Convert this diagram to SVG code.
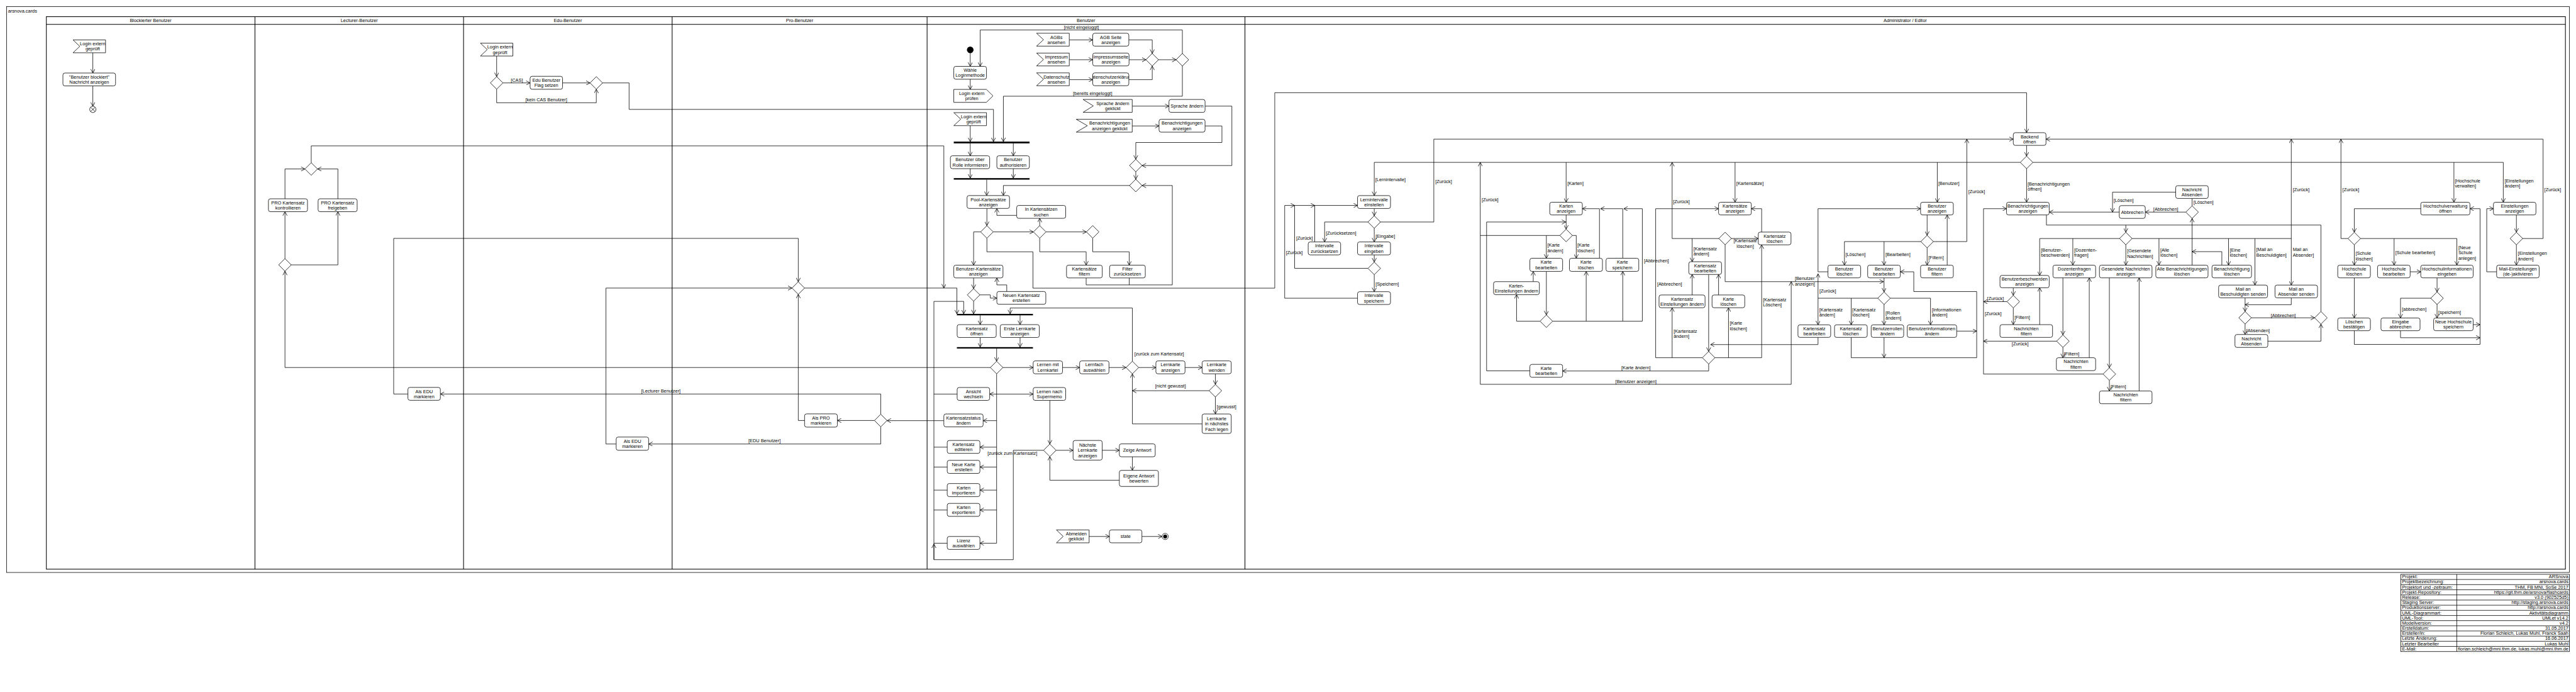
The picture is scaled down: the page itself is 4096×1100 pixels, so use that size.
<svg xmlns="http://www.w3.org/2000/svg" width="4096" height="1100" viewBox="0 0 4096 1100">
<style>
text{font-family:"Liberation Sans",Arial,Helvetica,sans-serif;font-size:14px;fill:#000}
.n text,.m{text-anchor:middle}
.r{text-anchor:end}
.b{fill:#fff;stroke:#000;stroke-width:1.5}
.k{fill:#000}
#connectors path{fill:none;stroke:#000;stroke-width:1.5}
#connectors .a{marker-end:url(#ah)}
.lane line,.lane rect{fill:none;stroke:#000;stroke-width:2}
.tb line,.tb rect{stroke:#000;stroke-width:1.5;fill:none}
</style>
<defs>
<marker id="ah" viewBox="0 0 13 14" refX="12.5" refY="7" markerWidth="13" markerHeight="14" orient="auto" markerUnits="userSpaceOnUse"><path d="M0.5 0.5L12.5 7L0.5 13.5" fill="none" stroke="#000" stroke-width="1.5"/></marker>
<clipPath id="cpd"><rect x="3300.2" y="220.1" width="109.1" height="38.8"/></clipPath>
</defs>
<rect width="4096" height="1100" fill="#fff"/>
<g transform="scale(0.526478,0.526316)">
<g id="frame">
<rect x="20" y="20" width="7740" height="1709" fill="none" stroke="#000" stroke-width="1.5"/>
<text x="24" y="38.5">arsnova.cards</text>
</g>
<g id="lanes" class="lane">
<rect x="140" y="50.4" width="7608" height="1668.6"/>
<line x1="140" y1="73.7" x2="7748" y2="73.7"/>
<line x1="770" y1="50.4" x2="770" y2="1719"/>
<line x1="1400" y1="50.4" x2="1400" y2="1719"/>
<line x1="2030" y1="50.4" x2="2030" y2="1719"/>
<line x1="2800" y1="50.4" x2="2800" y2="1719"/>
<line x1="3760" y1="50.4" x2="3760" y2="1719"/>
<text class="m" x="455" y="67">Blockierter Benutzer</text>
<text class="m" x="1085" y="67">Lecturer-Benutzer</text>
<text class="m" x="1715" y="67">Edu-Benutzer</text>
<text class="m" x="2415" y="67">Pro-Benutzer</text>
<text class="m" x="3280" y="67">Benutzer</text>
<text class="m" x="5754" y="67">Administrator / Editor</text>
</g>
<g id="connectors">
<path class="a" d="M280.4 159.4V220.5"/>
<path class="a" d="M280.4 259.4V320.9"/>
<path class="a" d="M860.7 781V639.3"/>
<path class="a" d="M879.7 800H1020.5V639.3"/>
<path class="a" d="M2991 1110H860.7V819"/>
<path class="a" d="M860.7 600.4V510.3H921"/>
<path class="a" d="M1020.5 600.4V510.3H959"/>
<path class="a" d="M940 491.3V440.6H2850.6V870"/>
<path class="a" d="M1232 1190H1189V720H2411V851"/>
<path class="a" d="M1500 169.2V231.4"/>
<path class="a" d="M1519 250.4H1601"/>
<path class="a" d="M1699 250.4H1782"/>
<path class="a" d="M1500 269.4V310.3H1801V269.4"/>
<path class="a" d="M1820 250.4H1900V330.4H3000.5V427.7"/>
<path class="a" d="M1861 1341H1830V870H2392"/>
<path class="a" d="M2430 870H2890V948"/>
<path class="a" d="M2430 1270H2411V889"/>
<path class="a" d="M2850.6 1270.5H2679"/>
<path class="a" d="M2641 1270H2529"/>
<path class="a" d="M2660 1251V1190H1330"/>
<path class="a" d="M2660 1289V1341H1959"/>
<path class="a" d="M2930.3 160V200.4"/>
<path class="a" d="M2930.3 239.3V270"/>
<path class="a" d="M2930.3 379.5V427.7"/>
<path class="a" d="M3571 161.4V90.6H2960.3V200.4"/>
<path class="a" d="M3571 199.4V290.6H3030.4V427.7"/>
<path class="a" d="M2930.3 433V470.5"/>
<path class="a" d="M3060.4 433V470.5"/>
<path class="a" d="M2930.3 509.4V538"/>
<path class="a" d="M3060.4 509.4V538"/>
<path class="a" d="M2980 542.5V590.6"/>
<path class="a" d="M3411.3 560.3H3030.4V590.6"/>
<path class="a" d="M3070.6 650.4H3010.7V629.5"/>
<path class="a" d="M3229.4 120.5H3300.2"/>
<path class="a" d="M3229.4 180.4H3300.2"/>
<path class="a" d="M3229.4 240.6H3300.2"/>
<path class="a" d="M3409.3 120.5H3480V161.4"/>
<path class="a" d="M3409.9 180.4H3461"/>
<path class="a" d="M3409.3 240.6H3480V199.4"/>
<path class="a" d="M3499 180.4H3552"/>
<path class="a" d="M3419.5 320.5H3530.5"/>
<path class="a" d="M3419.5 380.4H3500.5"/>
<path class="a" d="M3639.5 320.5H3720.5V500H3449.3"/>
<path class="a" d="M3639.5 380.4H3690.5V430.4H3430.3V481"/>
<path class="a" d="M3430.3 519V541.3"/>
<path class="a" d="M3280.4 839.4V860.5H3540.6V560.3H3449.3"/>
<path d="M3410.5 839.4V860.5"/>
<path class="a" d="M2980.6 629.5V681.4"/>
<path class="a" d="M2999.6 700.4H3121.1"/>
<path class="a" d="M3159.1 700.4H3281.2"/>
<path class="a" d="M3140.1 681.4V659.4"/>
<path class="a" d="M2961.6 700.4H2940.5V800.8"/>
<path class="a" d="M2980.6 719.4V760.5H3119.7V870.3H3850V280H6120.7V400.7"/>
<path class="a" d="M3140.1 719.4V760.5H3280.4V800.8"/>
<path class="a" d="M3300.2 719.4V760.5H3410.5V800.8"/>
<path class="a" d="M2940.5 839.4V871.6"/>
<path class="a" d="M2959.5 890.6H2991V900.4H3010.7"/>
<path class="a" d="M3040.6 880.4V860.5H3010.7V839.4"/>
<path class="a" d="M2940.5 909.6V948"/>
<path class="a" d="M2960.3 952.4V980.4"/>
<path class="a" d="M3080.8 952.4V980.4"/>
<path class="a" d="M2960.3 1019.3V1048.4"/>
<path class="a" d="M3080.8 1019.3V1048.4"/>
<path class="a" d="M3010 1052.7V1091"/>
<path class="a" d="M3029 1110H3120.4"/>
<path class="a" d="M3209 1110H3260.7"/>
<path class="a" d="M3349.3 1110H3401"/>
<path class="a" d="M3439 1110H3491"/>
<path class="a" d="M3579 1110H3630.6"/>
<path class="a" d="M3670.7 1129V1161"/>
<path class="a" d="M3420 1091V930.3H3050.8V948"/>
<path class="a" d="M3651.7 1180H3420"/>
<path class="a" d="M3670.7 1199V1250.3"/>
<path class="a" d="M3630.6 1280.3H3420V1129"/>
<path class="a" d="M3010 1129V1640.6H2959.6"/>
<path class="a" d="M3010 1190.2H2989"/>
<path class="a" d="M3010 1190.2H3120.4"/>
<path class="a" d="M3010 1270.5H2969.2"/>
<path class="a" d="M3010 1350.5H2959.6"/>
<path class="a" d="M3010 1410.6H2959.6"/>
<path class="a" d="M3010 1480.3H2959.6"/>
<path class="a" d="M3010 1540.4H2959.6"/>
<path class="a" d="M3151.7 1360H3060.4V1690.4H2820.6V910.3H2910.5V948"/>
<path class="a" d="M2820.6 1690.4V1643"/>
<path d="M2890.8 1190.2H2820.6M2860.8 1350.5H2820.6M2860.8 1410.6H2820.6M2860.8 1480.3H2820.6M2860.8 1540.4H2820.6M2860.8 1640.6H2820.6"/>
<path class="a" d="M3170.7 1209.3V1341"/>
<path class="a" d="M3189.7 1360H3240.9"/>
<path class="a" d="M3328.9 1360H3380.6"/>
<path class="a" d="M3420 1379.6V1420.6"/>
<path class="a" d="M3380.6 1450.4H3170.7V1379"/>
<path class="a" d="M3289.4 1620.3H3350.6"/>
<path class="a" d="M3448.8 1620.3H3509.5"/>
<path class="a" d="M4169.5 670.5H4330.4V420.2H6080.5"/>
<path class="a" d="M5839.3 729.6H5940.2V420.2"/>
<path class="a" d="M7619 720.4H7680.6V420.2H6179.3"/>
<path class="a" d="M7091.4 720.4H7070.1V420.2"/>
<path class="a" d="M6439.4 720.4H6920.1V420.2"/>
<path class="a" d="M6520.5 720.4V800.8"/>
<path class="a" d="M6730.6 720.4V800.8"/>
<path class="a" d="M6810.4 720.4V861"/>
<path class="a" d="M6920.1 720.4V861"/>
<path class="a" d="M6120.7 439.1V471.4"/>
<path class="a" d="M6101.7 490.4H4150.5V590.7"/>
<path class="a" d="M4730 490.4V610.8"/>
<path class="a" d="M5240.2 490.4V610.8"/>
<path class="a" d="M5851 490.4V610.8"/>
<path class="a" d="M6139.7 490.4H7560.4V610.8"/>
<path class="a" d="M7411.3 490.4V610.8"/>
<path class="a" d="M6120.7 509.4V610.8"/>
<path class="a" d="M4711 711.2H4470.7V490.4"/>
<path class="a" d="M4470.7 711.2V1160.7H5409.8V850.7"/>
<path class="a" d="M5191.2 720.4H5050.2V490.4"/>
<path class="a" d="M5110.7 720.4V790.4"/>
<path class="a" d="M5229.2 720.4H5310.3"/>
<path class="a" d="M5210.2 739.4V850.7H5688.5"/>
<path class="a" d="M5320.5 700.9V630.3H5289.3"/>
<path class="a" d="M5179.5 1080.4H5320.5V739.4"/>
<path class="a" d="M5141.5 1080.4H5000.4V630.3H5190.4"/>
<path class="a" d="M5050.2 1080.4V929.4"/>
<path class="a" d="M5220.4 1080.4V929.4"/>
<path class="a" d="M5110.7 890.9V828.9"/>
<path class="a" d="M5190.4 890.9V828.9"/>
<path class="a" d="M5160.5 828.9V1061.4"/>
<path class="a" d="M5160.5 1099.4V1120.5H4719.4"/>
<path class="a" d="M4620.5 1120H4489.8V670.5H4729"/>
<path class="a" d="M4730 649.2V692.2"/>
<path class="a" d="M4749 711.2H4760.6V780"/>
<path class="a" d="M4670.3 711.2V780"/>
<path class="a" d="M4670.3 819.7V951.1"/>
<path class="a" d="M4651.3 970.1H4580.3V889.8"/>
<path class="a" d="M4630.7 850.7V819.7"/>
<path class="a" d="M4689.3 970.1H4960.2V630.3H4904"/>
<path class="a" d="M4790.6 970.1V819.7"/>
<path class="a" d="M4901 970.1V819.7"/>
<path class="a" d="M4830.7 780V630.3H4779"/>
<path class="a" d="M4901 780V630.3H4834"/>
<path class="a" d="M5820.3 649.2V710.6"/>
<path class="a" d="M5820.3 748.6V800.8"/>
<path class="a" d="M5880.9 800.8V649.2"/>
<path class="a" d="M5801.3 729.6H5570.5V800.8"/>
<path class="a" d="M5690.2 729.6V800.8"/>
<path class="a" d="M5520.8 820.9H5490.8V630.3H5800.5"/>
<path class="a" d="M5671.2 900.7H5490.8V827"/>
<path class="a" d="M5490.8 900.7V981"/>
<path class="a" d="M5591 900.7V981"/>
<path class="a" d="M5690.2 839.2V881.7"/>
<path class="a" d="M5690.2 919.7V981"/>
<path class="a" d="M5709.2 900.7H5830.5V981"/>
<path class="a" d="M5490.8 1019V1040.7H5166"/>
<path class="a" d="M5591 1019V1080.4H5970V880.6H5780V820.9H5739.3"/>
<path class="a" d="M5690.2 1019V1080.4"/>
<path class="a" d="M5909.6 1000H5970"/>
<path class="a" d="M6180.6 649.2V679.7H6420.4V701.4"/>
<path d="M7009.7 940.8V679.7H6420.4"/>
<path class="a" d="M6401.4 720.4H6160.2V831.8"/>
<path class="a" d="M6260.3 720.4V800.8"/>
<path class="a" d="M6420.4 739.4V800.8"/>
<path class="a" d="M6620.6 800.8V659.6"/>
<path class="a" d="M6710.4 800.8V760H6620.6"/>
<path class="a" d="M6601.6 640.6H6479.1"/>
<path class="a" d="M6400.6 640.6H6189"/>
<path d="M6620.6 621.6V599.3"/>
<path class="a" d="M6571 580.3H6380.2V640.6"/>
<path class="a" d="M6080.5 869.1V892"/>
<path class="a" d="M6061.5 911H5990.6"/>
<path class="a" d="M6080.5 930V980.5"/>
<path class="a" d="M6160.2 980.5V869.1"/>
<path class="a" d="M6230.4 839.2V1011.4"/>
<path class="a" d="M6211.4 1030.4H5990.6"/>
<path class="a" d="M6230.4 1049.4V1080.4"/>
<path class="a" d="M6310 1080.4V839.2"/>
<path class="a" d="M6370.7 839.2V1110.7"/>
<path class="a" d="M6351.7 1129.7H5990.6V630.3H6060"/>
<path class="a" d="M6370.7 1148.7V1180.8"/>
<path class="a" d="M6460.6 1180.8V839.2"/>
<path class="a" d="M6780.6 899.5V940.8"/>
<path class="a" d="M6920.1 899.5V920.2H6780.6"/>
<path class="a" d="M6799.6 959.8H6990.7"/>
<path class="a" d="M6780.6 978.8V1010.3"/>
<path class="a" d="M6849.3 1030.4H7009.7V978.8"/>
<path class="a" d="M7311.2 630.3H7110.4V701.4"/>
<path class="a" d="M7110.4 739.4V800.8"/>
<path class="a" d="M7129.4 720.4H7420.2V800.8"/>
<path class="a" d="M7230.6 720.4V800.8"/>
<path class="a" d="M7279.1 820.9H7311.2"/>
<path class="a" d="M7110.4 839.2V960.4"/>
<path class="a" d="M7360.4 839.2V881.7"/>
<path class="a" d="M7341.4 900.7H7250V960.4"/>
<path class="a" d="M7360.4 919.7V960.4"/>
<path class="a" d="M7110.4 998.8V1040.2H7490.3V630.3H7459.7"/>
<path class="a" d="M7250 998.8V1020H7490.3"/>
<path class="a" d="M7469.4 980.5H7490.3"/>
<path class="a" d="M7600 649.2V701.4"/>
<path class="a" d="M7600 739.4V800.8"/>
<path class="a" d="M7540.3 820.9H7510.4V630.3H7530.6"/>
<path class="a" d="M4150.5 629.7V651.5"/>
<path class="a" d="M4131.5 670.5H4000.6V730.7"/>
<path class="a" d="M4150.5 689.5V730.7"/>
<path class="a" d="M4150.5 769.8V791.5"/>
<path class="a" d="M4150.5 829.5V881"/>
<path class="a" d="M4131.5 810.5H3910V620.5H3970.7"/>
<path class="a" d="M3970.7 730.7V620.5H4100"/>
<path class="a" d="M4100 900.7H3880V620.5H3910"/>
</g>
<g id="labels">
<text class="m" x="1561" y="247">[CAS]</text>
<text class="m" x="1650" y="306">[kein CAS Benutzer]</text>
<text class="m" x="1996" y="1186">[Lecturer Benutzer]</text>
<text class="m" x="2309" y="1335">[EDU Benutzer]</text>
<text class="m" x="3266" y="86.7">[nicht eingeloggt]</text>
<text class="m" x="3300" y="286.7">[bereits eingeloggt]</text>
<text x="3426" y="1074">[zurück zum Kartensatz]</text>
<text class="m" x="3535" y="1171">[nicht gewusst]</text>
<text x="3675" y="1232.7">[gewusst]</text>
<text x="2982.6" y="1374.3">[zurück zum Kartensatz]</text>
<text x="4153.7" y="548">[Lernintervalle]</text>
<text x="4334.8" y="553.2">[Zurück]</text>
<text x="4475.1" y="607.7">[Zurück]</text>
<text x="4004.5" y="708.2">[Zurücksetzen]</text>
<text x="4154.3" y="718">[Eingabe]</text>
<text x="3914.5" y="723.1">[Zurück]</text>
<text x="3883.9" y="768.5">[Zurück]</text>
<text x="4154.3" y="863.2">[Speichern]</text>
<text x="4733.8" y="557.8">[Karten]</text>
<text x="5244" y="557.8">[Kartensätze]</text>
<text x="5854" y="557.8">[Benutzer]</text>
<text x="4673.5" y="745.5">[Karte<tspan x="4673.5" dy="15.6">ändern]</tspan></text>
<text x="4763.8" y="745.5">[Karte<tspan x="4763.8" dy="15.6">löschen]</tspan></text>
<text x="5053" y="613">[Zurück]</text>
<text x="5114.5" y="755.3">[Kartensatz<tspan x="5114.5" dy="15.6">ändern]</tspan></text>
<text class="m" x="5271" y="732.3">[Kartensatz<tspan x="5271" dy="15.6">löschen]</tspan></text>
<text x="4965" y="792.6">[Abbrechen]</text>
<text x="5004.8" y="863">[Abbrechen]</text>
<text x="5054.6" y="1005">[Kartensatz<tspan x="5054.6" dy="15.6">ändern]</tspan></text>
<text x="5224.2" y="981">[Karte<tspan x="5224.2" dy="15.6">löschen]</tspan></text>
<text x="5324.4" y="910.3">[Kartensatz<tspan x="5324.4" dy="15.6">Löschen]</tspan></text>
<text class="m" x="4941" y="1115.8">[Karte ändern]</text>
<text class="m" x="4941" y="1156.5">[Benutzer anzeigen]</text>
<text x="5420.7" y="846">[Benutzer<tspan x="5420.7" dy="16.6">anzeigen]</tspan></text>
<text x="5495" y="884.4">[Zurück]</text>
<text x="5494.6" y="940.7">[Kartensatz<tspan x="5494.6" dy="15.6">ändern]</tspan></text>
<text x="5594" y="940.7">[Kartensatz<tspan x="5594" dy="15.6">löschen]</tspan></text>
<text x="5573.7" y="773.6">[Löschen]</text>
<text x="5694.6" y="773.6">[Bearbeiten]</text>
<text x="5944.6" y="583">[Zurück]</text>
<text x="5824" y="783.4">[Filtern]</text>
<text x="5694.6" y="950.4">[Rollen<tspan x="5694.6" dy="15.6">ändern]</tspan></text>
<text x="5834.3" y="940.7">[Informationen<tspan x="5834.3" dy="15.6">ändern]</tspan></text>
<text x="6123.8" y="560">[Benachrichtigungen<tspan x="6123.8" dy="15.6">öffnen]</tspan></text>
<text x="6383.4" y="610">[Löschen]</text>
<text x="6503.3" y="635.9">[Abbrechen]</text>
<text x="6624.6" y="616.3">[Löschen]</text>
<text x="6164" y="759.3">[Benutzer-<tspan x="6164" dy="15.6">beschwerden]</tspan></text>
<text x="6264.2" y="760.4">[Dozenten-<tspan x="6264.2" dy="15.6">fragen]</tspan></text>
<text x="6424.2" y="762.7">[Gesendete<tspan x="6424.2" dy="15.6">Nachrichten]</tspan></text>
<text x="6524.3" y="760.4">[Alle<tspan x="6524.3" dy="15.6">löschen]</tspan></text>
<text x="6734.3" y="760.4">[Eine<tspan x="6734.3" dy="15.6">löschen]</tspan></text>
<text x="6814.2" y="758.7">[Mail an<tspan x="6814.2" dy="15.6">Beschuldigten]</tspan></text>
<text x="6924.6" y="758.7">Mail an<tspan x="6924.6" dy="15.6">Absender]</tspan></text>
<text x="6001.4" y="906.2">[Zurück]</text>
<text x="5994.4" y="952">[Zurück]</text>
<text x="6076" y="1042.3">[Zurück]</text>
<text x="6084.3" y="963">[Filtern]</text>
<text x="6233.5" y="1072.7">[Filtern]</text>
<text x="6374.5" y="1173.2">[Filtern]</text>
<text x="6858.2" y="956.7">[Abbrechen]</text>
<text x="6784.3" y="1003.3">[Absenden]</text>
<text x="6924.6" y="578.5">[Zurück]</text>
<text x="7074.6" y="578.5">[Zurück]</text>
<text x="7684.3" y="578.5">[Zurück]</text>
<text x="7414.2" y="550.3">[Hochschule<tspan x="7414.2" dy="16.1">verwalten]</tspan></text>
<text x="7564.2" y="550.3">[Einstellungen<tspan x="7564.2" dy="16.1">ändern]</tspan></text>
<text x="7114.2" y="770.2">[Schule<tspan x="7114.2" dy="16.1">löschen]</tspan></text>
<text x="7234.3" y="768.5">[Schule bearbeiten]</text>
<text x="7424.6" y="752.4">[Neue<tspan x="7424.6" dy="16">Schule</tspan><tspan x="7424.6" dy="16">anlegen]</tspan></text>
<text x="7254.5" y="938.4">[abbrechen]</text>
<text x="7364.2" y="948.7">[speichern]</text>
<text x="7604.5" y="770.2">[Einstellungen<tspan x="7604.5" dy="16.1">ändern]</tspan></text>
</g>
<g id="n_bl_sig" class="n"><path class="b" d="M220.5 120.5H318.8V159.4H220.5L241 140Z"/><text x="279.9" y="137.2">Login extern<tspan x="279.9" dy="15.6">geprüft</tspan></text></g>
<g id="n_bl_msg" class="n"><rect class="b" x="190" y="220.5" width="159" height="39" rx="6"/><text x="269.5" y="237.2">"Benutzer blockiert"<tspan x="269.5" dy="15.6">Nachricht anzeigen</tspan></text></g>
<g id="n_bl_final"><circle class="b" cx="280.4" cy="330.4" r="9.5"/><path d="M273.7 323.7L287.1 337.1M287.1 323.7L273.7 337.1" stroke="#000" stroke-width="1.5"/></g>
<g id="n_le_d1"><polygon class="b" points="940,491.3 959,510.3 940,529.3 921,510.3"/></g>
<g id="n_le_d2"><polygon class="b" points="860.7,781 879.7,800 860.7,819 841.7,800"/></g>
<g id="n_le_k" class="n"><rect class="b" x="810.7" y="600.4" width="118" height="39" rx="6"/><text x="869.7" y="617">PRO Kartensatz<tspan x="869.7" dy="15.6">kontrollieren</tspan></text></g>
<g id="n_le_f" class="n"><rect class="b" x="960.7" y="600.4" width="118" height="39" rx="6"/><text x="1019.7" y="617">PRO Kartensatz<tspan x="1019.7" dy="15.6">freigeben</tspan></text></g>
<g id="n_le_edu" class="n"><rect class="b" x="1232" y="1170" width="98" height="39" rx="6"/><text x="1281" y="1186.7">Als EDU<tspan x="1281" dy="15.6">markieren</tspan></text></g>
<g id="n_ed_sig" class="n"><path class="b" d="M1451 130.4H1549V169.2H1451L1471.5 149.8Z"/><text x="1510" y="147">Login extern<tspan x="1510" dy="15.6">geprüft</tspan></text></g>
<g id="n_ed_d1"><polygon class="b" points="1500,231.4 1519,250.4 1500,269.4 1481,250.4"/></g>
<g id="n_ed_flag" class="n"><rect class="b" x="1601" y="230.4" width="98" height="39.2" rx="6"/><text x="1650" y="247.2">Edu Benutzer<tspan x="1650" dy="15.6">Flag setzen</tspan></text></g>
<g id="n_ed_d2"><polygon class="b" points="1801,231.4 1820,250.4 1801,269.4 1782,250.4"/></g>
<g id="n_ed_edu" class="n"><rect class="b" x="1861" y="1320" width="98" height="40" rx="6"/><text x="1910" y="1337.2">Als EDU<tspan x="1910" dy="15.6">markieren</tspan></text></g>
<g id="n_pr_d1"><polygon class="b" points="2411,851 2430,870 2411,889 2392,870"/></g>
<g id="n_pr_pro" class="n"><rect class="b" x="2430" y="1250" width="99" height="40" rx="6"/><text x="2479.5" y="1267.2">Als PRO<tspan x="2479.5" dy="15.6">markieren</tspan></text></g>
<g id="n_pr_d2"><polygon class="b" points="2660,1251 2679,1270 2660,1289 2641,1270"/></g>
<g id="n_b_init"><circle class="k" cx="2930.3" cy="150.4" r="10"/></g>
<g id="n_b_wahl" class="n"><rect class="b" x="2880.6" y="200.4" width="98.8" height="38.9" rx="6"/><text x="2930" y="217">Wähle<tspan x="2930" dy="15.6">Loginmethode</tspan></text></g>
<g id="n_b_pruefen" class="n"><path class="b" d="M2880.6 270H2979L2999 289.6L2979 309.2H2880.6Z"/><text x="2935" y="286.8">Login extern<tspan x="2935" dy="15.6">prüfen</tspan></text></g>
<g id="n_b_gepr" class="n"><path class="b" d="M2880.6 340.2H2979.4V379.5H2880.6L2901.6 359.9Z"/><text x="2940.5" y="357.1">Login extern<tspan x="2940.5" dy="15.6">geprüft</tspan></text></g>
<g id="n_b_fork1"><rect class="k" x="2880.6" y="427.7" width="228.9" height="5.3"/></g>
<g id="n_b_rolle" class="n"><rect class="b" x="2870.4" y="470.5" width="118.6" height="38.9" rx="6"/><text x="2929.7" y="487.1">Benutzer über<tspan x="2929.7" dy="15.6">Rolle informieren</tspan></text></g>
<g id="n_b_auth" class="n"><rect class="b" x="3010.7" y="470.5" width="98.2" height="38.9" rx="6"/><text x="3059.8" y="487.1">Benutzer<tspan x="3059.8" dy="15.6">authorisieren</tspan></text></g>
<g id="n_b_join2"><rect class="k" x="2880.6" y="538" width="228.9" height="4.5"/></g>
<g id="n_b_pool" class="n"><rect class="b" x="2920.7" y="590.6" width="128.3" height="38.9" rx="6"/><text x="2984.9" y="607.2">Pool-Kartensätze<tspan x="2984.9" dy="15.6">anzeigen</tspan></text></g>
<g id="n_b_such" class="n"><rect class="b" x="3070.6" y="620.5" width="148" height="38.9" rx="6"/><text x="3144.6" y="637.1">In Kartensätzen<tspan x="3144.6" dy="15.6">suchen</tspan></text></g>
<g id="n_b_agbs" class="n"><path class="b" d="M3130.6 100.4H3229.4V139.3H3130.6L3151.6 119.9Z"/><text x="3190.5" y="117.1">AGBs<tspan x="3190.5" dy="15.6">ansehen</tspan></text></g>
<g id="n_b_agb" class="n"><rect class="b" x="3300.2" y="100.4" width="109.1" height="38.9" rx="6"/><text x="3354.8" y="117">AGB Seite<tspan x="3354.8" dy="15.6">anzeigen</tspan></text></g>
<g id="n_b_imps" class="n"><path class="b" d="M3130.6 160.3H3229.4V199.1H3130.6L3151.6 179.7Z"/><text x="3190.5" y="176.9">Impressum<tspan x="3190.5" dy="15.6">ansehen</tspan></text></g>
<g id="n_b_imp" class="n"><rect class="b" x="3300.2" y="160.3" width="109.7" height="38.8" rx="6"/><text x="3355" y="176.9">Impressumsseite<tspan x="3355" dy="15.6">anzeigen</tspan></text></g>
<g id="n_b_dats" class="n"><path class="b" d="M3130.6 220.1H3229.4V258.9H3130.6L3151.6 239.5Z"/><text x="3190.5" y="236.7">Datenschutz<tspan x="3190.5" dy="15.6">ansehen</tspan></text></g>
<g id="n_b_dat" class="n"><rect class="b" x="3300.2" y="220.1" width="109.1" height="38.8" rx="6"/><text x="3354.8" y="236.7" clip-path="url(#cpd)">Datenschutzerklärung<tspan x="3354.8" dy="15.6">anzeigen</tspan></text></g>
<g id="n_b_d1"><polygon class="b" points="3480,161.4 3499,180.4 3480,199.4 3461,180.4"/></g>
<g id="n_b_d2"><polygon class="b" points="3571,161.4 3590,180.4 3571,199.4 3552,180.4"/></g>
<g id="n_b_sprs" class="n"><path class="b" d="M3271 300.4H3419.5V339.3H3271L3302 319.9Z"/><text x="3360.8" y="317.1">Sprache ändern<tspan x="3360.8" dy="15.6">geklickt</tspan></text></g>
<g id="n_b_spr" class="n"><rect class="b" x="3530.5" y="300.4" width="109" height="38.9" rx="6"/><text x="3585" y="324.9">Sprache ändern</text></g>
<g id="n_b_bens" class="n"><path class="b" d="M3250.5 360.3H3419.5V399.1H3250.5L3284 379.7Z"/><text x="3351.7" y="376.9">Benachrichtigungen<tspan x="3351.7" dy="15.6">anzeigen geklickt</tspan></text></g>
<g id="n_b_ben" class="n"><rect class="b" x="3500.5" y="360.3" width="139" height="38.8" rx="6"/><text x="3570" y="376.9">Benachrichtigungen<tspan x="3570" dy="15.6">anzeigen</tspan></text></g>
<g id="n_b_d3"><polygon class="b" points="3430.3,481 3449.3,500 3430.3,519 3411.3,500"/></g>
<g id="n_b_d4"><polygon class="b" points="3430.3,541.3 3449.3,560.3 3430.3,579.3 3411.3,560.3"/></g>
<g id="n_b_dA"><polygon class="b" points="2980.6,681.4 2999.6,700.4 2980.6,719.4 2961.6,700.4"/></g>
<g id="n_b_dB"><polygon class="b" points="3140.1,681.4 3159.1,700.4 3140.1,719.4 3121.1,700.4"/></g>
<g id="n_b_dC"><polygon class="b" points="3300.2,681.4 3319.2,700.4 3300.2,719.4 3281.2,700.4"/></g>
<g id="n_b_bks" class="n"><rect class="b" x="2880.6" y="800.8" width="148.6" height="38.6" rx="6"/><text x="2954.9" y="817.3">Benutzer-Kartensätze<tspan x="2954.9" dy="15.6">anzeigen</tspan></text></g>
<g id="n_b_filt" class="n"><rect class="b" x="3221.1" y="800.8" width="107.9" height="38.6" rx="6"/><text x="3275" y="817.3">Kartensätze<tspan x="3275" dy="15.6">filtern</tspan></text></g>
<g id="n_b_freset" class="n"><rect class="b" x="3351.2" y="800.8" width="107.8" height="38.6" rx="6"/><text x="3405.1" y="817.3">Filter<tspan x="3405.1" dy="15.6">zurücksetzen</tspan></text></g>
<g id="n_b_dD"><polygon class="b" points="2940.5,871.6 2959.5,890.6 2940.5,909.6 2921.5,890.6"/></g>
<g id="n_b_neu" class="n"><rect class="b" x="3010.7" y="880.4" width="147.9" height="38.6" rx="6"/><text x="3084.6" y="896.9">Neuen Kartensatz<tspan x="3084.6" dy="15.6">erstellen</tspan></text></g>
<g id="n_b_fork3"><rect class="k" x="2890" y="948" width="229.7" height="4.4"/></g>
<g id="n_b_oeff" class="n"><rect class="b" x="2890.8" y="980.4" width="118" height="38.9" rx="6"/><text x="2949.8" y="997">Kartensatz<tspan x="2949.8" dy="15.6">öffnen</tspan></text></g>
<g id="n_b_erste" class="n"><rect class="b" x="3020.9" y="980.4" width="118" height="38.9" rx="6"/><text x="3079.9" y="997">Erste Lernkarte<tspan x="3079.9" dy="15.6">anzeigen</tspan></text></g>
<g id="n_b_join4"><rect class="k" x="2890" y="1048.4" width="229.7" height="4.3"/></g>
<g id="n_b_dE"><polygon class="b" points="3010,1091 3029,1110 3010,1129 2991,1110"/></g>
<g id="n_b_lmit" class="n"><rect class="b" x="3120.4" y="1090" width="88.6" height="39" rx="6"/><text x="3164.7" y="1106.7">Lernen mit<tspan x="3164.7" dy="15.6">Lernkartei</tspan></text></g>
<g id="n_b_lfach" class="n"><rect class="b" x="3260.7" y="1090" width="88.6" height="39" rx="6"/><text x="3305" y="1106.7">Lernfach<tspan x="3305" dy="15.6">auswählen</tspan></text></g>
<g id="n_b_dF"><polygon class="b" points="3420,1091 3439,1110 3420,1129 3401,1110"/></g>
<g id="n_b_lanz" class="n"><rect class="b" x="3491" y="1090" width="88" height="39" rx="6"/><text x="3535" y="1106.7">Lernkarte<tspan x="3535" dy="15.6">anzeigen</tspan></text></g>
<g id="n_b_lwend" class="n"><rect class="b" x="3630.6" y="1090" width="88" height="39" rx="6"/><text x="3674.6" y="1106.7">Lernkarte<tspan x="3674.6" dy="15.6">wenden</tspan></text></g>
<g id="n_b_dG"><polygon class="b" points="3670.7,1161 3689.7,1180 3670.7,1199 3651.7,1180"/></g>
<g id="n_b_lnext" class="n"><rect class="b" x="3630.6" y="1250.3" width="88" height="58.9" rx="6"/><text x="3674.6" y="1268.8">Lernkarte<tspan x="3674.6" dy="16">in nächstes</tspan><tspan x="3674.6" dy="16">Fach legen</tspan></text></g>
<g id="n_b_ans" class="n"><rect class="b" x="2890.8" y="1170.3" width="98.2" height="39" rx="6"/><text x="2939.9" y="1187">Ansicht<tspan x="2939.9" dy="15.6">wechseln</tspan></text></g>
<g id="n_b_sm" class="n"><rect class="b" x="3120.4" y="1170.3" width="98.2" height="39" rx="6"/><text x="3169.5" y="1187">Lernen nach<tspan x="3169.5" dy="15.6">Supermemo</tspan></text></g>
<g id="n_b_kss" class="n"><rect class="b" x="2850.6" y="1250.3" width="118.6" height="39" rx="6"/><text x="2909.9" y="1267">Kartensatzstatus<tspan x="2909.9" dy="15.6">ändern</tspan></text></g>
<g id="n_b_kse" class="n"><rect class="b" x="2860.8" y="1330.3" width="98.8" height="39" rx="6"/><text x="2910.2" y="1347">Kartensatz<tspan x="2910.2" dy="15.6">editieren</tspan></text></g>
<g id="n_b_nk" class="n"><rect class="b" x="2860.8" y="1390.3" width="98.8" height="39.5" rx="6"/><text x="2910.2" y="1407.2">Neue Karte<tspan x="2910.2" dy="15.6">erstellen</tspan></text></g>
<g id="n_b_ki" class="n"><rect class="b" x="2860.8" y="1460.4" width="98.8" height="39.4" rx="6"/><text x="2910.2" y="1477.3">Karten<tspan x="2910.2" dy="15.6">importieren</tspan></text></g>
<g id="n_b_ke" class="n"><rect class="b" x="2860.8" y="1520.4" width="98.8" height="39.1" rx="6"/><text x="2910.2" y="1537.2">Karten<tspan x="2910.2" dy="15.6">exportieren</tspan></text></g>
<g id="n_b_liz" class="n"><rect class="b" x="2860.8" y="1620.3" width="98.8" height="39.1" rx="6"/><text x="2910.2" y="1637">Lizenz<tspan x="2910.2" dy="15.6">auswählen</tspan></text></g>
<g id="n_b_dH"><polygon class="b" points="3170.7,1341 3189.7,1360 3170.7,1379 3151.7,1360"/></g>
<g id="n_b_next" class="n"><rect class="b" x="3240.9" y="1330.3" width="88" height="59.3" rx="6"/><text x="3284.9" y="1349">Nächste<tspan x="3284.9" dy="16">Lernkarte</tspan><tspan x="3284.9" dy="16">anzeigen</tspan></text></g>
<g id="n_b_zeige" class="n"><rect class="b" x="3380.6" y="1340.6" width="108.4" height="39" rx="6"/><text x="3434.8" y="1365.1">Zeige Antwort</text></g>
<g id="n_b_eig" class="n"><rect class="b" x="3380.6" y="1420.6" width="118" height="48.6" rx="6"/><text x="3439.6" y="1442.1">Eigene Antwort<tspan x="3439.6" dy="15.6">bewerten</tspan></text></g>
<g id="n_b_abm" class="n"><path class="b" d="M3190.5 1600.4H3289.4V1639.5H3190.5L3211 1620Z"/><text x="3250.5" y="1617.2">Abmelden<tspan x="3250.5" dy="15.6">geklickt</tspan></text></g>
<g id="n_b_state" class="n"><rect class="b" x="3350.6" y="1600.4" width="98.2" height="39.1" rx="6"/><text x="3399.7" y="1625">state</text></g>
<g id="n_b_final"><circle class="b" cx="3519" cy="1620.3" r="9.5"/><circle class="k" cx="3519" cy="1620.3" r="6"/></g>
<g id="n_a_back" class="n"><rect class="b" x="6080.5" y="400.7" width="98.8" height="38.4" rx="6"/><text x="6129.9" y="417.1">Backend<tspan x="6129.9" dy="15.6">öffnen</tspan></text></g>
<g id="n_a_dAD"><polygon class="b" points="6120.7,471.4 6139.7,490.4 6120.7,509.4 6101.7,490.4"/></g>
<g id="n_a_lern" class="n"><rect class="b" x="4100" y="590.7" width="99.6" height="39" rx="6"/><text x="4149.8" y="607.4">Lernintervalle<tspan x="4149.8" dy="15.6">einstellen</tspan></text></g>
<g id="n_a_dL1"><polygon class="b" points="4150.5,651.5 4169.5,670.5 4150.5,689.5 4131.5,670.5"/></g>
<g id="n_a_izr" class="n"><rect class="b" x="3951" y="730.7" width="98" height="39.1" rx="6"/><text x="4000" y="747.4">Intervalle<tspan x="4000" dy="15.6">zurücksetzen</tspan></text></g>
<g id="n_a_ieg" class="n"><rect class="b" x="4100" y="730.7" width="99.6" height="39.1" rx="6"/><text x="4149.8" y="747.4">Intervalle<tspan x="4149.8" dy="15.6">eingeben</tspan></text></g>
<g id="n_a_dL2"><polygon class="b" points="4150.5,791.5 4169.5,810.5 4150.5,829.5 4131.5,810.5"/></g>
<g id="n_a_isp" class="n"><rect class="b" x="4100" y="881" width="99.6" height="38.6" rx="6"/><text x="4149.8" y="897.5">Intervalle<tspan x="4149.8" dy="15.6">speichern</tspan></text></g>
<g id="n_a_kanz" class="n"><rect class="b" x="4680.5" y="610.8" width="98.5" height="38.4" rx="6"/><text x="4729.8" y="627.2">Karten<tspan x="4729.8" dy="15.6">anzeigen</tspan></text></g>
<g id="n_a_dK1"><polygon class="b" points="4730,692.2 4749,711.2 4730,730.2 4711,711.2"/></g>
<g id="n_a_kb1" class="n"><rect class="b" x="4620.5" y="780" width="98.9" height="39.7" rx="6"/><text x="4670" y="797">Karte<tspan x="4670" dy="15.6">bearbeiten</tspan></text></g>
<g id="n_a_kl1" class="n"><rect class="b" x="4740" y="780" width="99.7" height="39.7" rx="6"/><text x="4789.9" y="797">Karte<tspan x="4789.9" dy="15.6">löschen</tspan></text></g>
<g id="n_a_ksp" class="n"><rect class="b" x="4850.5" y="780" width="98.9" height="39.7" rx="6"/><text x="4900" y="797">Karte<tspan x="4900" dy="15.6">speichern</tspan></text></g>
<g id="n_a_kein" class="n"><rect class="b" x="4510.8" y="850.7" width="138.4" height="39.1" rx="6"/><text x="4580" y="867.4">Karten-<tspan x="4580" dy="15.6">Einstellungen ändern</tspan></text></g>
<g id="n_a_dK2"><polygon class="b" points="4670.3,951.1 4689.3,970.1 4670.3,989.1 4651.3,970.1"/></g>
<g id="n_a_kb2" class="n"><rect class="b" x="4620.5" y="1100.5" width="98.9" height="39" rx="6"/><text x="4670" y="1117.2">Karte<tspan x="4670" dy="15.6">bearbeiten</tspan></text></g>
<g id="n_a_ksanz" class="n"><rect class="b" x="5190.4" y="610.8" width="98.9" height="38.4" rx="6"/><text x="5239.9" y="627.2">Kartensätze<tspan x="5239.9" dy="15.6">anzeigen</tspan></text></g>
<g id="n_a_dK3"><polygon class="b" points="5210.2,701.4 5229.2,720.4 5210.2,739.4 5191.2,720.4"/></g>
<g id="n_a_ksl1" class="n"><rect class="b" x="5310.3" y="700.9" width="98.9" height="38.5" rx="6"/><text x="5359.8" y="717.3">Kartensatz<tspan x="5359.8" dy="15.6">löschen</tspan></text></g>
<g id="n_a_ksb1" class="n"><rect class="b" x="5100.5" y="790.4" width="98.9" height="38.5" rx="6"/><text x="5150" y="806.9">Kartensatz<tspan x="5150" dy="15.6">bearbeiten</tspan></text></g>
<g id="n_a_ksein" class="n"><rect class="b" x="5010.6" y="890.9" width="139" height="38.5" rx="6"/><text x="5080.1" y="907.3">Kartensatz<tspan x="5080.1" dy="15.6">Einstellungen ändern</tspan></text></g>
<g id="n_a_kl2" class="n"><rect class="b" x="5170.7" y="890.9" width="98.8" height="38.5" rx="6"/><text x="5220.1" y="907.3">Karte<tspan x="5220.1" dy="15.6">löschen</tspan></text></g>
<g id="n_a_dK4"><polygon class="b" points="5160.5,1061.4 5179.5,1080.4 5160.5,1099.4 5141.5,1080.4"/></g>
<g id="n_a_banz" class="n"><rect class="b" x="5800.5" y="610.8" width="98.9" height="38.4" rx="6"/><text x="5850" y="627.2">Benutzer<tspan x="5850" dy="15.6">anzeigen</tspan></text></g>
<g id="n_a_dB1"><polygon class="b" points="5820.3,710.6 5839.3,729.6 5820.3,748.6 5801.3,729.6"/></g>
<g id="n_a_bfilt" class="n"><rect class="b" x="5800.5" y="800.8" width="98.9" height="38.4" rx="6"/><text x="5850" y="817.2">Benutzer<tspan x="5850" dy="15.6">filtern</tspan></text></g>
<g id="n_a_blosch" class="n"><rect class="b" x="5520.8" y="800.8" width="98.8" height="38.4" rx="6"/><text x="5570.2" y="817.2">Benutzer<tspan x="5570.2" dy="15.6">löschen</tspan></text></g>
<g id="n_a_bbear" class="n"><rect class="b" x="5640.7" y="800.8" width="98.6" height="38.4" rx="6"/><text x="5690" y="817.2">Benutzer<tspan x="5690" dy="15.6">bearbeiten</tspan></text></g>
<g id="n_a_dB2"><polygon class="b" points="5690.2,881.7 5709.2,900.7 5690.2,919.7 5671.2,900.7"/></g>
<g id="n_a_ksb2" class="n"><rect class="b" x="5430.2" y="981" width="98.8" height="38" rx="6"/><text x="5479.6" y="997.2">Kartensatz<tspan x="5479.6" dy="15.6">bearbeiten</tspan></text></g>
<g id="n_a_ksl2" class="n"><rect class="b" x="5540.6" y="981" width="98.8" height="38" rx="6"/><text x="5590" y="997.2">Kartensatz<tspan x="5590" dy="15.6">löschen</tspan></text></g>
<g id="n_a_brol" class="n"><rect class="b" x="5651.3" y="981" width="98.2" height="38" rx="6"/><text x="5700.4" y="997.2">Benutzerrollen<tspan x="5700.4" dy="15.6">ändern</tspan></text></g>
<g id="n_a_binf" class="n"><rect class="b" x="5760.3" y="981" width="149.3" height="38" rx="6"/><text x="5835" y="997.2">Benutzerinformationen<tspan x="5835" dy="15.6">ändern</tspan></text></g>
<g id="n_a_nanz" class="n"><rect class="b" x="6060" y="610.8" width="129" height="38.4" rx="6"/><text x="6124.5" y="627.2">Benachrichtigungen<tspan x="6124.5" dy="15.6">anzeigen</tspan></text></g>
<g id="n_a_nabs1" class="n"><rect class="b" x="6571" y="560.8" width="98.4" height="38.5" rx="6"/><text x="6620.2" y="577.3">Nachricht<tspan x="6620.2" dy="15.6">Absenden</tspan></text></g>
<g id="n_a_abbr" class="n"><rect class="b" x="6400.6" y="621" width="78.5" height="38.6" rx="6"/><text x="6439.9" y="645.3">Abbrechen</text></g>
<g id="n_a_dN5"><polygon class="b" points="6620.6,621.6 6639.6,640.6 6620.6,659.6 6601.6,640.6"/></g>
<g id="n_a_dN4"><polygon class="b" points="6420.4,701.4 6439.4,720.4 6420.4,739.4 6401.4,720.4"/></g>
<g id="n_a_bbes" class="n"><rect class="b" x="6040.3" y="831.8" width="148.7" height="37.3" rx="6"/><text x="6114.7" y="847.7">Benutzerbeschwerden<tspan x="6114.7" dy="15.6">anzeigen</tspan></text></g>
<g id="n_a_doz" class="n"><rect class="b" x="6200.4" y="800.8" width="128.8" height="38.4" rx="6"/><text x="6264.8" y="817.2">Dozentenfragen<tspan x="6264.8" dy="15.6">anzeigen</tspan></text></g>
<g id="n_a_ges" class="n"><rect class="b" x="6340.7" y="800.8" width="158.8" height="38.4" rx="6"/><text x="6420.1" y="817.2">Gesendete Nachrichten<tspan x="6420.1" dy="15.6">anzeigen</tspan></text></g>
<g id="n_a_alle" class="n"><rect class="b" x="6511" y="800.8" width="157.7" height="38.4" rx="6"/><text x="6589.9" y="817.2">Alle Benachrichtigungen<tspan x="6589.9" dy="15.6">löschen</tspan></text></g>
<g id="n_a_eine" class="n"><rect class="b" x="6680.6" y="800.8" width="119.4" height="38.4" rx="6"/><text x="6740.3" y="817.2">Benachrichtigung<tspan x="6740.3" dy="15.6">löschen</tspan></text></g>
<g id="n_a_mbes" class="n"><rect class="b" x="6700.7" y="861" width="147.8" height="38.5" rx="6"/><text x="6774.6" y="877.5">Mail an<tspan x="6774.6" dy="15.6">Beschuldigten senden</tspan></text></g>
<g id="n_a_mabs" class="n"><rect class="b" x="6870.9" y="861" width="128.4" height="38.5" rx="6"/><text x="6935.1" y="877.5">Mail an<tspan x="6935.1" dy="15.6">Absender senden</tspan></text></g>
<g id="n_a_dN7"><polygon class="b" points="6780.6,940.8 6799.6,959.8 6780.6,978.8 6761.6,959.8"/></g>
<g id="n_a_dN8"><polygon class="b" points="7009.7,940.8 7028.7,959.8 7009.7,978.8 6990.7,959.8"/></g>
<g id="n_a_nabs2" class="n"><rect class="b" x="6750" y="1010.3" width="99.3" height="39" rx="6"/><text x="6799.7" y="1027">Nachricht<tspan x="6799.7" dy="15.6">Absenden</tspan></text></g>
<g id="n_a_dN1"><polygon class="b" points="6080.5,892 6099.5,911 6080.5,930 6061.5,911"/></g>
<g id="n_a_dN2"><polygon class="b" points="6230.4,1011.4 6249.4,1030.4 6230.4,1049.4 6211.4,1030.4"/></g>
<g id="n_a_dN3"><polygon class="b" points="6370.7,1110.7 6389.7,1129.7 6370.7,1148.7 6351.7,1129.7"/></g>
<g id="n_a_nf1" class="n"><rect class="b" x="6040.3" y="980.5" width="158.8" height="38.5" rx="6"/><text x="6119.7" y="997">Nachrichten<tspan x="6119.7" dy="15.6">filtern</tspan></text></g>
<g id="n_a_nf2" class="n"><rect class="b" x="6210.6" y="1080.4" width="118.6" height="39" rx="6"/><text x="6269.9" y="1097.1">Nachrichten<tspan x="6269.9" dy="15.6">filtern</tspan></text></g>
<g id="n_a_nf3" class="n"><rect class="b" x="6340.7" y="1180.8" width="158.8" height="38.5" rx="6"/><text x="6420.1" y="1197.3">Nachrichten<tspan x="6420.1" dy="15.6">filtern</tspan></text></g>
<g id="n_a_hsv" class="n"><rect class="b" x="7311.2" y="610.8" width="148.5" height="38.4" rx="6"/><text x="7385.5" y="627.2">Hochschulverwaltung<tspan x="7385.5" dy="15.6">öffnen</tspan></text></g>
<g id="n_a_dH1"><polygon class="b" points="7110.4,701.4 7129.4,720.4 7110.4,739.4 7091.4,720.4"/></g>
<g id="n_a_hsl" class="n"><rect class="b" x="7060.4" y="800.8" width="98.6" height="38.4" rx="6"/><text x="7109.7" y="817.2">Hochschule<tspan x="7109.7" dy="15.6">löschen</tspan></text></g>
<g id="n_a_hsb" class="n"><rect class="b" x="7180.6" y="800.8" width="98.5" height="38.4" rx="6"/><text x="7229.9" y="817.2">Hochschule<tspan x="7229.9" dy="15.6">bearbeiten</tspan></text></g>
<g id="n_a_hsi" class="n"><rect class="b" x="7311.2" y="800.8" width="158.2" height="38.4" rx="6"/><text x="7390.3" y="817.2">Hochschulinformationen<tspan x="7390.3" dy="15.6">eingeben</tspan></text></g>
<g id="n_a_dH2"><polygon class="b" points="7360.4,881.7 7379.4,900.7 7360.4,919.7 7341.4,900.7"/></g>
<g id="n_a_lb" class="n"><rect class="b" x="7060.4" y="960.4" width="98.6" height="38.4" rx="6"/><text x="7109.7" y="976.8">Löschen<tspan x="7109.7" dy="15.6">bestätigen</tspan></text></g>
<g id="n_a_ea" class="n"><rect class="b" x="7191" y="960.4" width="118" height="38.4" rx="6"/><text x="7250" y="976.8">Eingabe<tspan x="7250" dy="15.6">abbrechen</tspan></text></g>
<g id="n_a_nhs" class="n"><rect class="b" x="7350" y="960.4" width="119.4" height="38.4" rx="6"/><text x="7409.7" y="976.8">Neue Hochschule<tspan x="7409.7" dy="15.6">speichern</tspan></text></g>
<g id="n_a_eanz" class="n"><rect class="b" x="7530.6" y="610.8" width="128.4" height="38.4" rx="6"/><text x="7594.8" y="627.2">Einstellungen<tspan x="7594.8" dy="15.6">anzeigen</tspan></text></g>
<g id="n_a_dE1"><polygon class="b" points="7600,701.4 7619,720.4 7600,739.4 7581,720.4"/></g>
<g id="n_a_mail" class="n"><rect class="b" x="7540.3" y="800.8" width="128.4" height="38.4" rx="6"/><text x="7604.5" y="817.2">Mail-Einstellungen<tspan x="7604.5" dy="15.6">(de-)aktivieren</tspan></text></g>
<g id="infotable" class="tb">
<rect x="7251" y="1734.6" width="509" height="233.3"/>
<line x1="7420" y1="1734.6" x2="7420" y2="1967.9"/>
<line x1="7251" y1="1750.15" x2="7760" y2="1750.15"/>
<line x1="7251" y1="1765.7" x2="7760" y2="1765.7"/>
<line x1="7251" y1="1781.25" x2="7760" y2="1781.25"/>
<line x1="7251" y1="1796.8" x2="7760" y2="1796.8"/>
<line x1="7251" y1="1812.35" x2="7760" y2="1812.35"/>
<line x1="7251" y1="1827.9" x2="7760" y2="1827.9"/>
<line x1="7251" y1="1843.45" x2="7760" y2="1843.45"/>
<line x1="7251" y1="1859" x2="7760" y2="1859"/>
<line x1="7251" y1="1874.55" x2="7760" y2="1874.55"/>
<line x1="7251" y1="1890.1" x2="7760" y2="1890.1"/>
<line x1="7251" y1="1905.65" x2="7760" y2="1905.65"/>
<line x1="7251" y1="1921.2" x2="7760" y2="1921.2"/>
<line x1="7251" y1="1936.75" x2="7760" y2="1936.75"/>
<line x1="7251" y1="1952.3" x2="7760" y2="1952.3"/>
<text x="7254.6" y="1746.6">Projekt:</text><text class="r" x="7757" y="1746.6">ARSnova</text>
<text x="7254.6" y="1762.2">Projektbezeichnung:</text><text class="r" x="7757" y="1762.2">arsnova.cards</text>
<text x="7254.6" y="1777.7">Projektort und -zeitraum:</text><text class="r" x="7757" y="1777.7">THM, FB MNI, SoSe 2017</text>
<text x="7254.6" y="1793.3">Projekt-Repository:</text><text class="r" x="7757" y="1793.3">https://git.thm.de/arsnova/flashcards</text>
<text x="7254.6" y="1808.8">Release:</text><text class="r" x="7757" y="1808.8">v3.0 (902525d5)</text>
<text x="7254.6" y="1824.4">Staging Server:</text><text class="r" x="7757" y="1824.4">http://staging.arsnova.cards</text>
<text x="7254.6" y="1839.9">Produktionsserver:</text><text class="r" x="7757" y="1839.9">http://arsnova.cards</text>
<text x="7254.6" y="1855.5">UML-Diagrammart:</text><text class="r" x="7757" y="1855.5">Aktivitätsdiagramm</text>
<text x="7254.6" y="1871">UML-Tool:</text><text class="r" x="7757" y="1871">UMLet v14.2</text>
<text x="7254.6" y="1886.6">Modellversion:</text><text class="r" x="7757" y="1886.6">v4.2</text>
<text x="7254.6" y="1902.1">Erstelldatum:</text><text class="r" x="7757" y="1902.1">31.05.2017</text>
<text x="7254.6" y="1917.7">Ersteller/in:</text><text class="r" x="7757" y="1917.7">Florian Schleich, Lukas Muhl, Franck Saah</text>
<text x="7254.6" y="1933.2">Letzte Änderung:</text><text class="r" x="7757" y="1933.2">16.06.2017</text>
<text x="7254.6" y="1948.8">Letzter Bearbeiter</text><text class="r" x="7757" y="1948.8">Lukas Muhl</text>
<text x="7254.6" y="1964.3">E-Mail:</text><text class="r" x="7757" y="1964.3">florian.schleich@mni.thm.de, lukas.muhl@mni.thm.de</text>
</g>
</g>
</svg>
